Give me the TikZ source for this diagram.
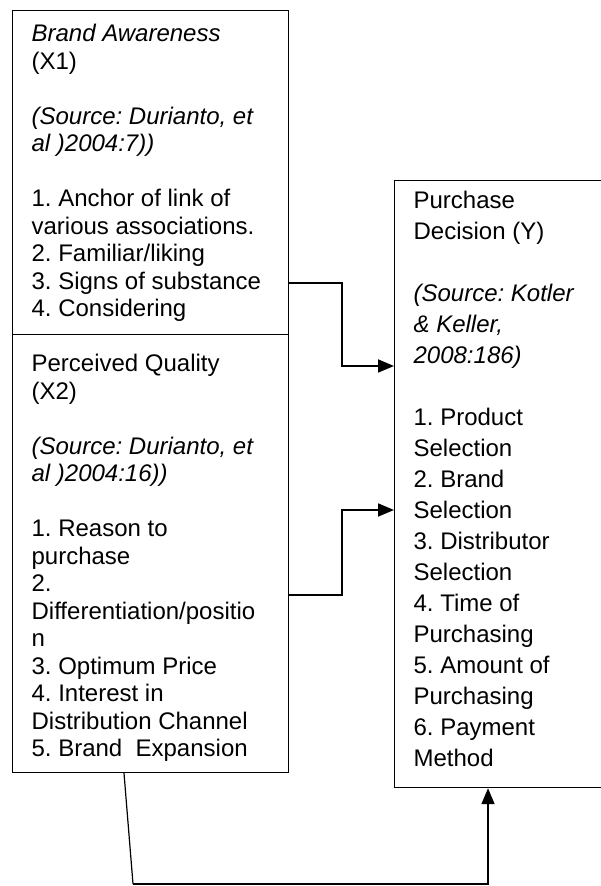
\documentclass[tikz,border=0pt]{standalone}
\usepackage{fontspec}
\setmainfont{Liberation Sans}
\usetikzlibrary{arrows.meta}

\begin{document}
\begin{tikzpicture}[x=0.5pt,y=-0.5pt]

% Stili
\tikzset{
  varbox/.style={draw, line width=0.6pt, anchor=north west,
    inner xsep=9.5pt, font=\fontsize{12}{13.75}\selectfont\frenchspacing},
  link/.style={line width=0.9pt, -{Triangle[length=8pt,width=6.5pt]}},
}

% Area del disegno
\useasboundingbox (0,0) rectangle (600,886);

% Variabile X1
\node[varbox, inner ysep=7pt] (bawa) at (12,10) {\parbox[c][148pt][t]{119pt}{\raggedright
\textit{Brand Awareness}\\
(X1)\\[13.75pt]
\textit{(Source: Durianto, et}\\
\textit{al )2004:7))}\\[13.75pt]
1. Anchor of link of\\
various associations.\\
2. Familiar/liking\\
3. Signs of substance\\
4. Considering}};

% Variabile X2
\node[varbox, inner ysep=10pt] (pqual) at (12,334) {\parbox[c][199pt][t]{119pt}{\raggedright
Perceived Quality\\
(X2)\\[13.75pt]
\textit{(Source: Durianto, et}\\
\textit{al )2004:16))}\\[13.75pt]
1. Reason to\\
purchase\\
2.\\
Differentiation/positio\\
n\\
3. Optimum Price\\
4. Interest in\\
Distribution Channel\\
5. Brand\ \ Expansion}};

% Variabile Y
\node[varbox, inner ysep=5.5pt, font=\fontsize{12}{15.5}\selectfont\frenchspacing]
  (pdec) at (394,180) {\parbox[c][292.5pt][t]{87pt}{\raggedright
Purchase\\
Decision (Y)\\[15.5pt]
\textit{(Source: Kotler}\\
\textit{\& Keller,}\\
\textit{2008:186)}\\[15.5pt]
1. Product\\
Selection\\
2. Brand\\
Selection\\
3. Distributor\\
Selection\\
4. Time of\\
Purchasing\\
5. Amount of\\
Purchasing\\
6. Payment\\
Method}};

% Frecce
\draw[link] ([yshift=26pt]bawa.south east) -- ++(26.5pt,0)
  |- ([yshift=-93pt]pdec.north west);
\draw[link] ([yshift=-130.5pt]pqual.north east) -- ++(26.5pt,0)
  |- ([yshift=-165pt]pdec.north west);

% Collegamento in basso
\coordinate (giro) at (133,884);
\draw[line width=0.6pt] ([xshift=56pt]pqual.south west) -- (giro);
\draw[link] (giro) -| ([xshift=47pt]pdec.south west);

\end{tikzpicture}
\end{document}
